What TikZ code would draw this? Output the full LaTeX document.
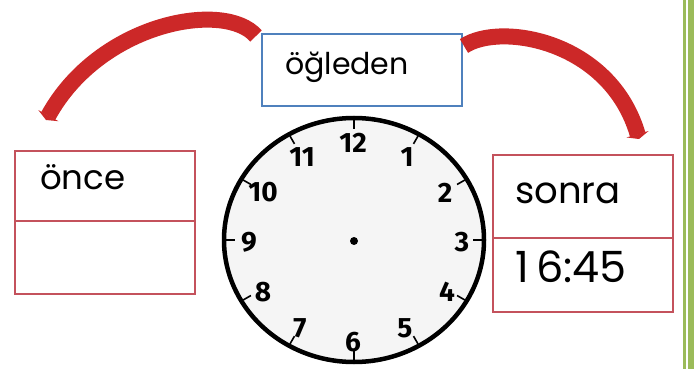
\documentclass[tikz,border=0pt]{standalone}
\usepackage{fontspec}
\setmainfont{Poppins}
\newfontfamily\clockfont{Fira Sans}
\usetikzlibrary{arrows.meta,shapes.geometric}
\definecolor{boxred}{RGB}{196,82,92}
\definecolor{boxblue}{RGB}{79,129,189}
\definecolor{arrowred}{RGB}{204,40,40}
\definecolor{bargreen}{RGB}{155,187,89}
\definecolor{clockface}{RGB}{245,245,245}
\tikzset{
  redcell/.style={draw=boxred,line width=2.6pt,fill=white,minimum width=180pt,inner sep=0pt},
  bluebox/.style={draw=boxblue,line width=2.4pt,fill=white,minimum width=200pt,minimum height=72pt,inner sep=0pt},
  word/.style={anchor=base west,inner sep=0pt,text=black},
  bigarrow/.style={draw=arrowred,line width=16pt,-{Triangle[width=23pt,length=5pt]}},
  clocknum/.style={inner sep=0pt,font=\clockfont\bfseries\fontsize{28}{28}\selectfont}
}
\begin{document}
\begin{tikzpicture}[x=1pt,y=-1pt]
\useasboundingbox (0,0) rectangle (694,369);
\fill[white] (0,0) rectangle (694,369);
% green page border
\fill[bargreen] (683,0) rectangle (685.5,369);
\fill[bargreen] (687.5,0) rectangle (694,369);
% ogleden box
\node[bluebox] (og) at (362,70) {};
\node[word,font=\fontsize{30}{30}\selectfont] (ogt) at (285,75) {öğleden};
% left box
\node[redcell,minimum height=70pt] (lt) at (105,186) {};
\node[redcell,minimum height=73pt] (lb) at (105,257.5) {};
\node[word,font=\fontsize{34}{34}\selectfont] (lttext) at (40,189) {önce};
% right box
\node[redcell,minimum height=83pt] (rt) at (583,196.5) {};
\node[redcell,minimum height=74pt] (rb) at (583,275) {};
\node[word,font=\fontsize{37}{37}\selectfont] (rttext) at (515,203) {sonra};
\node[word,font=\fontsize{43}{43}\selectfont] (rbtext) at (515,282) {1\,6:45};
% arrows
\coordinate (lstart) at (256,36);
\coordinate (lend) at (46,120);
\coordinate (rstart) at (464,46);
\coordinate (rend) at (639,139);
\draw[bigarrow] (lstart) .. controls (225,0) and (100,22) .. (lend);
\draw[bigarrow] (rstart) .. controls (500,22) and (610,40) .. (rend);
% clock
\node[draw=black,line width=4.5pt,fill=clockface,ellipse,minimum width=260pt,minimum height=244pt,inner sep=0pt] (clock) at (354,240) {};
\fill[black] (354,241) circle (4pt);
\foreach \a in {0,30,...,330}{
  \draw[line width=1.6pt] ({354+128*sin(\a)},{240-120*cos(\a)}) -- ({354+119*sin(\a)},{240-111*cos(\a)});
}
\node[clocknum] (n12) at (353,143) {12};
\node[clocknum] (n1) at (407,157) {1};
\node[clocknum] (n2) at (445,193) {2};
\node[clocknum] (n3) at (462,242) {3};
\node[clocknum] (n4) at (447,292) {4};
\node[clocknum] (n5) at (405,328) {5};
\node[clocknum] (n6) at (353,342) {6};
\node[clocknum] (n7) at (300,328) {7};
\node[clocknum] (n8) at (263,292) {8};
\node[clocknum] (n9) at (249,242) {9};
\node[clocknum] (n10) at (263,192) {10};
\node[clocknum] (n11) at (302,157) {11};
\end{tikzpicture}
\end{document}
